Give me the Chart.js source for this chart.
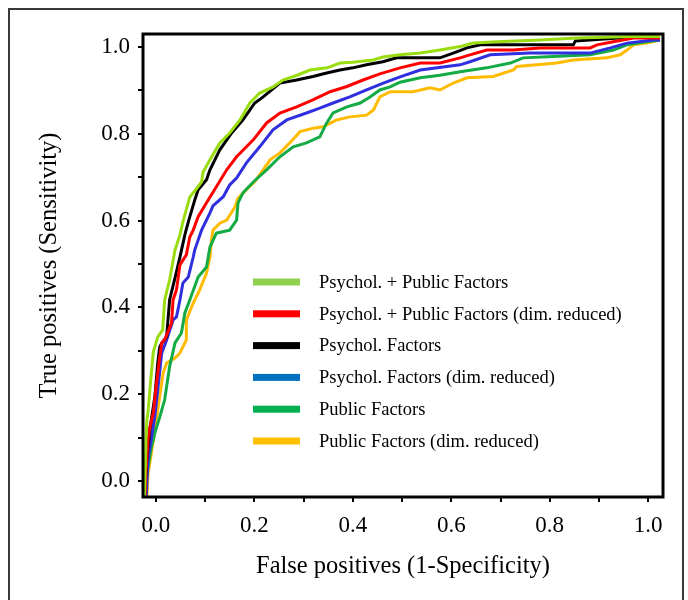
<!DOCTYPE html>
<html>
<head>
<meta charset="utf-8">
<script src="https://cdn.jsdelivr.net/npm/chart.js@4.4.1/dist/chart.umd.min.js"></script>
<style>
  html, body { margin: 0; padding: 0; background: #fff; }
  #wrap { position: relative; width: 688px; height: 600px; }
  #frame { position: absolute; left: 8px; top: 8px; width: 676px; height: 600px;
           border: 2px solid #3a3a3a; border-bottom: none; box-sizing: border-box; pointer-events: none; }
  canvas { position: absolute; left: 0; top: 0; }
</style>
</head>
<body>
<div id="wrap">
  <canvas id="c" width="688" height="600"></canvas>
  <div id="frame"></div>
</div>
<script>
// ---------- DATA ----------
const seriesLabels = [
  'Psychol. + Public Factors',
  'Psychol. + Public Factors (dim. reduced)',
  'Psychol. Factors',
  'Psychol. Factors (dim. reduced)',
  'Public Factors',
  'Public Factors (dim. reduced)'
];

const tickValues = [0.0, 0.1, 0.2, 0.3, 0.4, 0.5, 0.6, 0.7, 0.8, 0.9, 1.0];

// Psychol. + Public Factors
const fprPsyPub = [-0.023,-0.020,-0.018,-0.016,-0.012,-0.009,-0.005,-0.002,0.004,0.014,0.018,0.028,0.039,0.049,0.055,0.069,0.081,0.093,0.096,0.110,0.130,0.150,0.171,0.191,0.211,0.238,0.258,0.287,0.313,0.348,0.374,0.400,0.441,0.461,0.496,0.537,0.577,0.618,0.644,0.693,0.780,0.856,0.963,1.024];
const tprPsyPub = [-0.037,0.094,0.141,0.157,0.210,0.249,0.297,0.309,0.332,0.348,0.417,0.463,0.532,0.567,0.597,0.654,0.671,0.689,0.712,0.740,0.779,0.802,0.832,0.871,0.894,0.908,0.924,0.935,0.947,0.952,0.963,0.965,0.970,0.977,0.982,0.986,0.993,1.001,1.009,1.012,1.016,1.021,1.024,1.024];

// Psychol. + Public Factors (dim. reduced)
const fprPsyPubRed = [-0.022,-0.020,-0.016,-0.012,-0.005,0.001,0.008,0.012,0.018,0.032,0.035,0.042,0.049,0.062,0.069,0.076,0.086,0.103,0.123,0.144,0.164,0.198,0.225,0.252,0.286,0.319,0.354,0.388,0.421,0.455,0.496,0.537,0.577,0.618,0.638,0.672,0.726,0.780,0.882,0.896,0.929,0.970,1.024];
const tprPsyPubRed = [-0.037,0.025,0.094,0.124,0.157,0.221,0.286,0.318,0.325,0.364,0.417,0.440,0.498,0.521,0.562,0.578,0.609,0.641,0.678,0.717,0.747,0.786,0.825,0.848,0.862,0.878,0.897,0.909,0.924,0.938,0.952,0.963,0.963,0.975,0.982,0.993,0.993,0.998,0.998,1.005,1.012,1.021,1.021];

// Psychol. Factors
const fprPsy = [-0.023,-0.022,-0.019,-0.012,-0.002,0.004,0.008,0.012,0.022,0.028,0.039,0.049,0.059,0.066,0.079,0.086,0.103,0.110,0.130,0.154,0.177,0.201,0.218,0.252,0.286,0.319,0.347,0.374,0.400,0.428,0.461,0.489,0.577,0.604,0.632,0.659,0.848,0.852,0.970,1.024];
const tprPsy = [-0.037,-0.028,0.041,0.118,0.194,0.272,0.309,0.318,0.332,0.417,0.468,0.516,0.567,0.597,0.647,0.671,0.694,0.717,0.763,0.802,0.832,0.871,0.885,0.917,0.924,0.932,0.940,0.947,0.952,0.959,0.966,0.975,0.975,0.986,0.998,1.005,1.005,1.014,1.023,1.023];

// Psychol. Factors (dim. reduced)
const fprPsyRed = [-0.020,-0.019,-0.016,-0.008,-0.002,0.004,0.012,0.022,0.035,0.042,0.049,0.055,0.066,0.076,0.079,0.093,0.110,0.116,0.137,0.150,0.164,0.184,0.211,0.238,0.266,0.306,0.333,0.360,0.394,0.428,0.462,0.496,0.537,0.618,0.638,0.679,0.760,0.882,0.923,0.957,1.010,1.024];
const tprPsyRed = [-0.037,-0.028,0.048,0.106,0.147,0.210,0.295,0.325,0.371,0.378,0.417,0.456,0.470,0.516,0.532,0.578,0.618,0.634,0.655,0.682,0.698,0.733,0.770,0.809,0.832,0.848,0.859,0.871,0.885,0.901,0.917,0.931,0.947,0.959,0.966,0.982,0.986,0.986,0.998,1.009,1.016,1.016];

// Public Factors
const fprPub = [-0.020,-0.019,-0.009,0.000,0.008,0.018,0.028,0.039,0.052,0.059,0.069,0.086,0.103,0.110,0.123,0.150,0.164,0.167,0.177,0.198,0.225,0.252,0.279,0.306,0.333,0.347,0.360,0.388,0.415,0.435,0.455,0.476,0.496,0.537,0.577,0.618,0.672,0.720,0.746,0.807,0.882,0.929,0.957,0.997,1.024];
const tprPub = [-0.037,0.009,0.078,0.118,0.147,0.187,0.263,0.318,0.341,0.387,0.417,0.470,0.493,0.539,0.571,0.578,0.601,0.641,0.664,0.689,0.717,0.747,0.770,0.779,0.793,0.825,0.848,0.862,0.871,0.885,0.901,0.908,0.919,0.929,0.935,0.943,0.952,0.963,0.975,0.978,0.982,0.993,1.005,1.012,1.016];

// Public Factors (dim. reduced)
const fprPubRed = [-0.018,-0.016,-0.008,-0.002,0.004,0.015,0.022,0.039,0.049,0.062,0.062,0.076,0.089,0.103,0.110,0.113,0.116,0.130,0.144,0.161,0.167,0.184,0.201,0.218,0.232,0.252,0.272,0.293,0.320,0.340,0.367,0.394,0.428,0.442,0.455,0.476,0.522,0.557,0.577,0.604,0.632,0.685,0.726,0.733,0.774,0.814,0.848,0.916,0.943,0.957,0.970,0.997,1.024];
const tprPubRed = [-0.037,0.014,0.071,0.118,0.164,0.249,0.272,0.283,0.295,0.325,0.371,0.410,0.440,0.479,0.516,0.555,0.578,0.594,0.601,0.632,0.652,0.671,0.690,0.717,0.740,0.756,0.779,0.805,0.813,0.816,0.832,0.839,0.843,0.855,0.885,0.897,0.897,0.906,0.901,0.917,0.929,0.932,0.947,0.955,0.959,0.963,0.970,0.975,0.982,0.993,1.005,1.009,1.016];

// ---------- styles ----------
const lineColors   = ['#99dd11', '#ff0000', '#000000', '#2f2fe0', '#14aa44', '#ffbb00'];
const legendColors = ['#92d050', '#ff0000', '#000000', '#0070c0', '#00b050', '#ffc000'];
const serif = "'Liberation Serif', 'Times New Roman', serif";

const xs = [fprPsyPub, fprPsyPubRed, fprPsy, fprPsyRed, fprPub, fprPubRed];
const ys = [tprPsyPub, tprPsyPubRed, tprPsy, tprPsyRed, tprPub, tprPubRed];

const datasets = seriesLabels.map((lab, i) => ({
  label: lab,
  data: xs[i].map((x, k) => ({ x: x, y: ys[i][k] })),
  borderColor: lineColors[i],
  backgroundColor: lineColors[i],
  borderWidth: 3,
  pointRadius: 0,
  tension: 0,
  fill: false
}));

// frame around the plot area + legend inside it
const framePlugin = {
  id: 'frameAndLegend',
  afterDatasetsDraw(chart) {
    const { ctx, chartArea: a } = chart;
    ctx.save();
    ctx.strokeStyle = '#000';
    ctx.lineWidth = 3;
    ctx.strokeRect(a.left, a.top, a.right - a.left, a.bottom - a.top);
    // legend
    const x0 = a.left + 110, y0 = a.top + 248, dy = 31.8;
    ctx.font = '18.5px ' + serif;
    ctx.textBaseline = 'middle';
    ctx.fillStyle = '#000';
    chart.data.datasets.forEach((d, i) => {
      const y = y0 + i * dy;
      ctx.fillStyle = legendColors[i];
      ctx.fillRect(x0, y - 3.5, 47, 7);
      ctx.fillStyle = '#000';
      ctx.fillText(d.label, x0 + 66, y + 1);
    });
    ctx.restore();
  }
};

const tickCommon = {
  color: '#000',
  font: { family: serif, size: 23 },
  callback: (v) => (Math.round(v * 10) % 2 === 0 ? v.toFixed(1) : '')
};

new Chart(document.getElementById('c'), {
  type: 'line',
  data: { datasets },
  options: {
    responsive: false,
    animation: false,
    devicePixelRatio: 1,
    layout: { padding: { left: 0, right: 25, top: 34, bottom: 0 } },
    plugins: { legend: { display: false }, tooltip: { enabled: false } },
    scales: {
      x: {
        type: 'linear',
        min: -0.026, max: 1.030,
        afterBuildTicks: (ax) => { ax.ticks = tickValues.map(v => ({ value: v })); },
        afterFit: (ax) => { ax.height = 103; },
        ticks: Object.assign({}, tickCommon, { padding: 10, maxRotation: 0, autoSkip: false }),
        grid: { display: true, drawOnChartArea: false, drawTicks: true, tickLength: 5, color: '#000', lineWidth: 2 },
        border: { display: false },
        title: { display: true, text: 'False positives (1-Specificity)', color: '#000',
                 font: { family: serif, size: 24.5 }, padding: { top: 0, bottom: 19 } }
      },
      y: {
        type: 'linear',
        min: -0.037, max: 1.030,
        afterBuildTicks: (ax) => { ax.ticks = tickValues.map(v => ({ value: v })); },
        afterFit: (ax) => { ax.width = 143; },
        ticks: Object.assign({}, tickCommon, { padding: 8, autoSkip: false }),
        grid: { display: true, drawOnChartArea: false, drawTicks: true, tickLength: 5, color: '#000', lineWidth: 2 },
        border: { display: false },
        title: { display: true, text: 'True positives (Sensitivity)', color: '#000',
                 font: { family: serif, size: 24.5 }, padding: { top: 35, bottom: 0 } }
      }
    }
  },
  plugins: [framePlugin]
});
</script>
</body>
</html>
